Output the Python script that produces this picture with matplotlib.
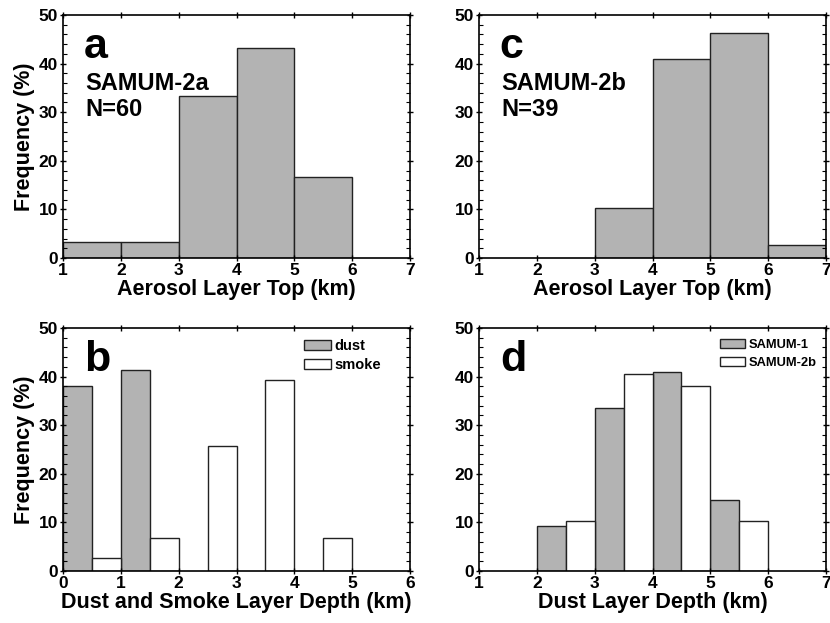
import matplotlib
matplotlib.use("Agg")
import matplotlib.pyplot as plt
from matplotlib.ticker import MultipleLocator
from matplotlib.patches import Patch

plt.rcParams['font.family'] = ['Liberation Sans', 'DejaVu Sans']
plt.rcParams['font.weight'] = 'bold'

# Panel a: SAMUM-2a aerosol layer top
a_edges = [1, 2, 3, 4, 5, 6]
a_freq = [3.3, 3.3, 33.3, 43.3, 16.7]

# Panel c: SAMUM-2b aerosol layer top
c_edges = [3, 4, 5, 6, 7]
c_freq = [10.3, 41.0, 46.2, 2.6]

# Panel b: dust and smoke layer depth
b_dust_left = [0.0, 1.0]
b_dust_freq = [38.0, 41.4]
b_smoke_left = [0.5, 1.5, 2.5, 3.5, 4.5]
b_smoke_freq = [2.7, 6.8, 25.7, 39.2, 6.8]
b_width = 0.5

# Panel d: dust layer depth
d_s1_left = [2.0, 3.0, 4.0, 5.0]
d_s1_freq = [9.3, 33.5, 41.0, 14.7]
d_s2_left = [2.5, 3.5, 4.5, 5.5]
d_s2_freq = [10.2, 40.5, 38.0, 10.2]
d_width = 0.5

GREY = '#b3b3b3'
EDGE = '#222222'

fig = plt.figure(figsize=(8.3, 6.23), dpi=100)
W, H = 830, 623

def make_ax(x0, x1, ytop, ybot):
    return fig.add_axes([x0 / W, 1 - ybot / H, (x1 - x0) / W, (ybot - ytop) / H])

ax_a = make_ax(63, 410, 15, 258)
ax_c = make_ax(479, 826, 15, 258)
ax_b = make_ax(63, 410, 328, 571)
ax_d = make_ax(479, 826, 328, 571)

def style(ax, xlim, xlabel, ylabel=True):
    ax.set_xlim(*xlim)
    ax.set_ylim(0, 50)
    ax.xaxis.set_major_locator(MultipleLocator(1))
    ax.yaxis.set_major_locator(MultipleLocator(10))
    ax.yaxis.set_minor_locator(MultipleLocator(2))
    ax.tick_params(axis='both', which='major', direction='inout', length=5, width=1,
                   top=True, right=True, labelsize=12.5, pad=1)
    ax.tick_params(axis='y', which='minor', direction='in', length=3, width=0.8,
                   left=True, right=True)
    for lab in ax.get_xticklabels() + ax.get_yticklabels():
        lab.set_fontweight('bold')
    for s in ax.spines.values():
        s.set_linewidth(1.2)
    ax.set_xlabel(xlabel, fontsize=15.5, fontweight='bold', labelpad=1)
    if ylabel:
        ax.set_ylabel('Frequency (%)', fontsize=15.5, fontweight='bold', labelpad=3)

def panel_text(ax, letter, lines=None):
    ax.text(0.06, 0.95, letter, transform=ax.transAxes, fontsize=31, fontweight='bold', va='top')
    if lines:
        ax.text(0.065, 0.765, lines, transform=ax.transAxes, fontsize=17,
                fontweight='bold', va='top', linespacing=1.15)

# Panel a
ax_a.bar(a_edges[:-1], a_freq, width=1, align='edge', color=GREY, edgecolor=EDGE, linewidth=1)
style(ax_a, (1, 7), 'Aerosol Layer Top (km)')
panel_text(ax_a, 'a', 'SAMUM-2a\nN=60')

# Panel c
ax_c.bar(c_edges[:-1], c_freq, width=1, align='edge', color=GREY, edgecolor=EDGE, linewidth=1)
style(ax_c, (1, 7), 'Aerosol Layer Top (km)', ylabel=False)
panel_text(ax_c, 'c', 'SAMUM-2b\nN=39')

# Panel b
ax_b.bar(b_dust_left, b_dust_freq, width=b_width, align='edge', color=GREY, edgecolor=EDGE, linewidth=1)
ax_b.bar(b_smoke_left, b_smoke_freq, width=b_width, align='edge', color='white', edgecolor=EDGE, linewidth=1)
style(ax_b, (0, 6), 'Dust and Smoke Layer Depth (km)')
panel_text(ax_b, 'b')
hb = [Patch(facecolor=GREY, edgecolor=EDGE, label='dust'),
      Patch(facecolor='white', edgecolor=EDGE, label='smoke')]
ax_b.legend(handles=hb, loc='upper left', bbox_to_anchor=(0.695, 0.955), frameon=False,
            prop={'weight': 'bold', 'size': 10.5}, handlelength=1.85, handleheight=0.65,
            handletextpad=0.2, labelspacing=0.35, borderaxespad=0, borderpad=0)

# Panel d
ax_d.bar(d_s1_left, d_s1_freq, width=d_width, align='edge', color=GREY, edgecolor=EDGE, linewidth=1)
ax_d.bar(d_s2_left, d_s2_freq, width=d_width, align='edge', color='white', edgecolor=EDGE, linewidth=1)
style(ax_d, (1, 7), 'Dust Layer Depth (km)', ylabel=False)
panel_text(ax_d, 'd')
hd = [Patch(facecolor=GREY, edgecolor=EDGE, label='SAMUM-1'),
      Patch(facecolor='white', edgecolor=EDGE, label='SAMUM-2b')]
ax_d.legend(handles=hd, loc='upper left', bbox_to_anchor=(0.695, 0.955), frameon=False,
            prop={'weight': 'bold', 'size': 9.3}, handlelength=1.95, handleheight=0.7,
            handletextpad=0.25, labelspacing=0.45, borderaxespad=0, borderpad=0)

fig.savefig('out.png', dpi=100)
